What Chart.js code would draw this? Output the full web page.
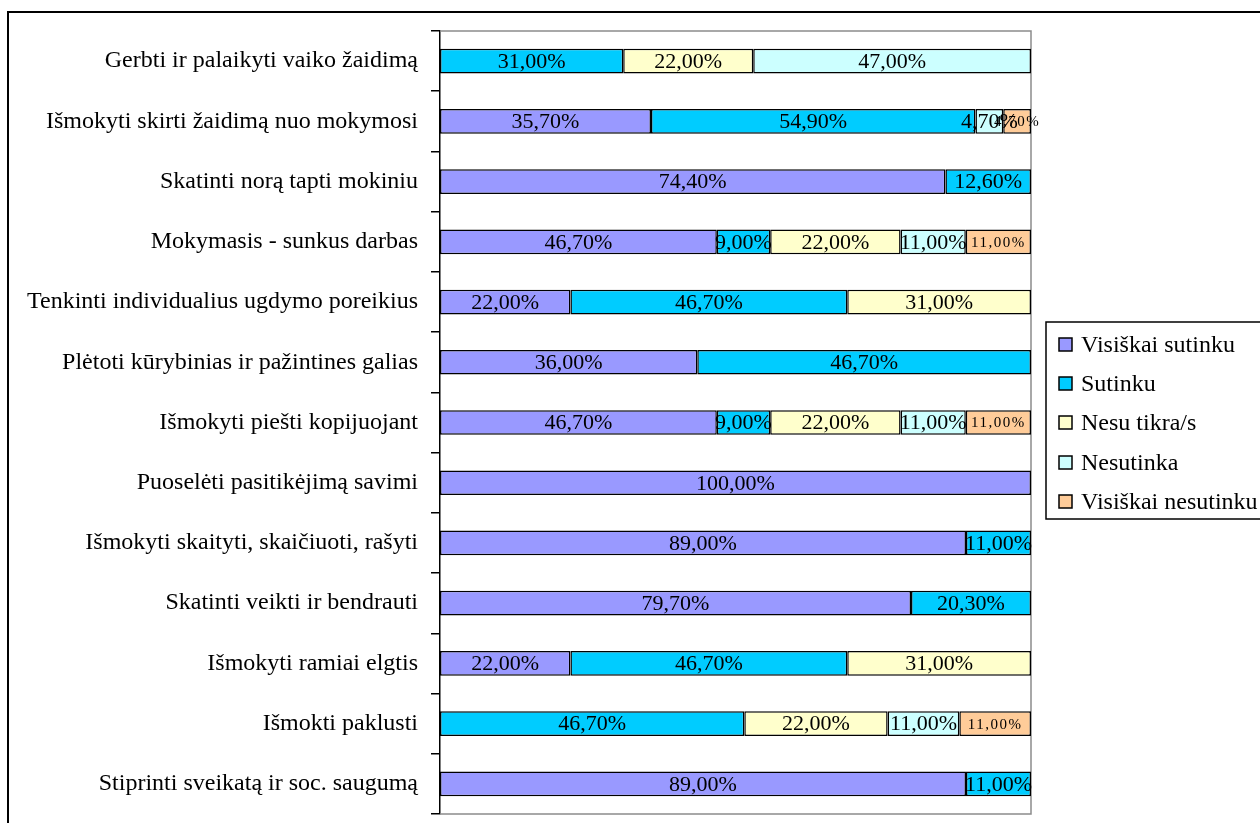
<!DOCTYPE html>
<html>
<head>
<meta charset="utf-8">
<script src="https://cdn.jsdelivr.net/npm/chart.js@4.4.0/dist/chart.umd.min.js"></script>
<style>
html,body{margin:0;padding:0;background:#fff;overflow:hidden;}
#wrap{position:relative;width:1260px;height:823px;}
#frame{position:absolute;left:7px;top:11px;width:1300px;height:900px;border:2px solid #000;box-sizing:border-box;pointer-events:none;}
canvas{position:absolute;left:0;top:0;}
</style>
</head>
<body>
<div id="wrap">
<canvas id="c" width="1260" height="823"></canvas>
<div id="frame"></div>
</div>
<script>
const categories = [
  "Gerbti ir palaikyti vaiko žaidimą",
  "Išmokyti skirti žaidimą nuo mokymosi",
  "Skatinti norą tapti mokiniu",
  "Mokymasis - sunkus darbas",
  "Tenkinti individualius ugdymo poreikius",
  "Plėtoti kūrybinias ir pažintines galias",
  "Išmokyti piešti kopijuojant",
  "Puoselėti pasitikėjimą savimi",
  "Išmokyti skaityti, skaičiuoti, rašyti",
  "Skatinti veikti ir bendrauti",
  "Išmokyti ramiai elgtis",
  "Išmokti paklusti",
  "Stiprinti sveikatą ir soc. saugumą"
];
const seriesNames = ["Visiškai sutinku","Sutinku","Nesu tikra/s","Nesutinka","Visiškai nesutinku"];
const visiskaiSutinku   = [0, 35.7, 74.4, 46.7, 22, 36, 46.7, 100, 89, 79.7, 22, 0, 89];
const sutinku           = [31, 54.9, 12.6, 9, 46.7, 46.7, 9, 0, 11, 20.3, 46.7, 46.7, 11];
const nesuTikras        = [22, 0, 0, 22, 31, 0, 22, 0, 0, 0, 31, 22, 0];
const nesutinka         = [47, 4.7, 0, 11, 0, 0, 11, 0, 0, 0, 0, 11, 0];
const visiskaiNesutinku = [0, 4.7, 0, 11, 0, 0, 11, 0, 0, 0, 0, 11, 0];

const rawSeries = [visiskaiSutinku, sutinku, nesuTikras, nesutinka, visiskaiNesutinku];
const colors = ["#9999FF","#00CCFF","#FFFFCC","#CCFFFF","#FFCC99"];

const totals = categories.map((_, i) => rawSeries.reduce((s, a) => s + a[i], 0));
const datasets = rawSeries.map((arr, k) => ({
  label: seriesNames[k],
  raw: arr,
  data: arr.map((v, i) => v / totals[i] * 100),
  backgroundColor: colors[k],
  borderColor: "#000",
  borderWidth: 1.5,
  borderSkipped: false,
  barPercentage: 0.41,
  categoryPercentage: 1.0
}));

const FONT = "'Liberation Serif', 'Times New Roman', serif";

const frameBox = {
  id: 'frameBox',
  beforeDatasetsDraw(chart) {
    const {ctx, chartArea: a} = chart;
    ctx.save();
    ctx.strokeStyle = '#8c8c8c';
    ctx.lineWidth = 1.5;
    ctx.beginPath();
    ctx.moveTo(a.left, a.top); ctx.lineTo(a.right, a.top);
    ctx.lineTo(a.right, a.bottom); ctx.lineTo(a.left, a.bottom);
    ctx.stroke();
    ctx.restore();
  }
};

const valueLabels = {
  id: 'valueLabels',
  afterDatasetsDraw(chart) {
    const ctx = chart.ctx;
    ctx.save();
    ctx.fillStyle = '#000';
    ctx.textAlign = 'center';
    ctx.textBaseline = 'middle';
    chart.data.datasets.forEach((ds, k) => {
      const meta = chart.getDatasetMeta(k);
      meta.data.forEach((el, i) => {
        const v = ds.raw[i];
        if (!v) return;
        const p = el.getProps(['x','y','base'], true);
        const cx = (p.x + p.base) / 2;
        if (k === 4) {
          ctx.font = "15px " + FONT;
          ctx.letterSpacing = "1.5px";
        } else {
          ctx.font = "22px " + FONT;
          ctx.letterSpacing = "0px";
        }
        ctx.fillText(v.toFixed(2).replace('.', ',') + '%', cx, p.y + 1);
      });
    });
    ctx.restore();
  }
};

const customLegend = {
  id: 'customLegend',
  afterDraw(chart) {
    const ctx = chart.ctx;
    ctx.save();
    ctx.strokeStyle = '#000';
    ctx.lineWidth = 1.5;
    ctx.strokeRect(1046, 322, 240, 197);
    ctx.font = "24px " + FONT;
    ctx.textBaseline = 'middle';
    ctx.textAlign = 'left';
    const ys = [345, 384, 423, 463, 502];
    chart.data.datasets.forEach((ds, k) => {
      const y = ys[k];
      ctx.fillStyle = ds.backgroundColor;
      ctx.fillRect(1059, y - 7, 13, 13);
      ctx.strokeStyle = '#000';
      ctx.lineWidth = 1.5;
      ctx.strokeRect(1059, y - 7, 13, 13);
      ctx.fillStyle = '#000';
      ctx.fillText(ds.label, 1081, y + 1);
    });
    ctx.restore();
  }
};

new Chart(document.getElementById('c'), {
  type: 'bar',
  data: { labels: categories, datasets: datasets },
  options: {
    indexAxis: 'y',
    responsive: false,
    animation: false,
    layout: { padding: { top: 31, bottom: 9, right: 229, left: 0 } },
    plugins: { legend: { display: false }, tooltip: { enabled: false } },
    scales: {
      x: { stacked: true, min: 0, max: 100, display: false },
      y: {
        stacked: true,
        afterFit(scale) { scale.width = 440; scale.paddingTop = 0; scale.paddingBottom = 0; },
        grid: { drawOnChartArea: false, drawTicks: true, tickLength: 9, color: '#000', lineWidth: 1.5, offset: true },
        border: { display: true, color: '#000', width: 1.5 },
        ticks: { color: '#000', font: { family: FONT, size: 24 }, padding: 13, autoSkip: false }
      }
    }
  },
  plugins: [frameBox, valueLabels, customLegend]
});
</script>
</body>
</html>
